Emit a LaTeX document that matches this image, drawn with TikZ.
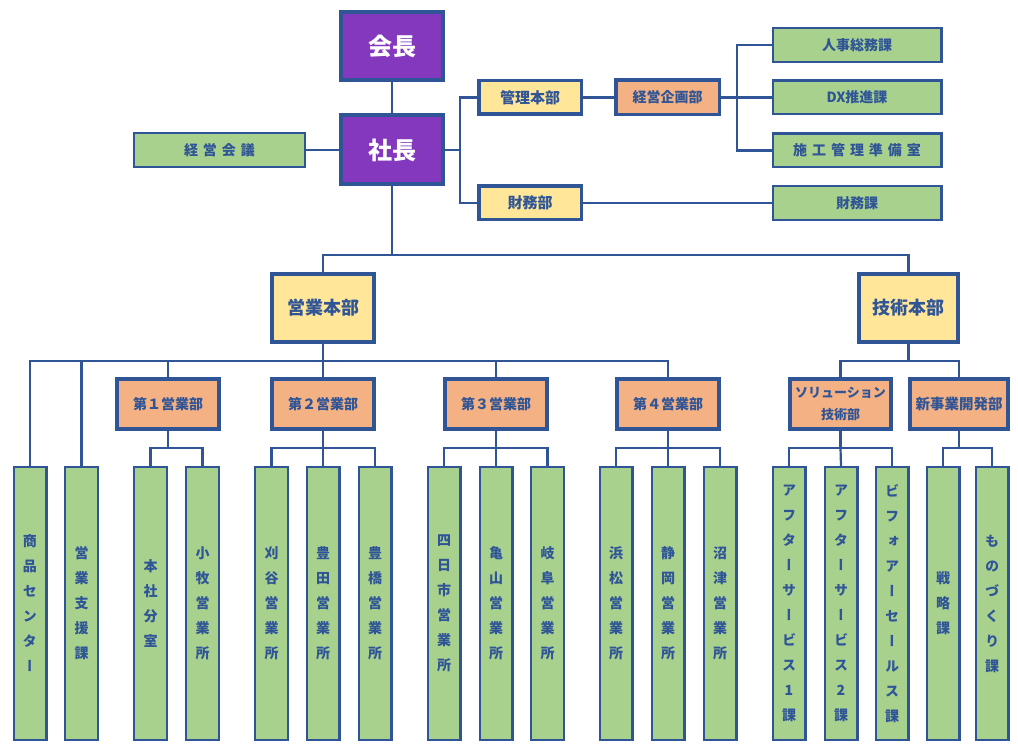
\documentclass[tikz,border=0pt]{standalone}
\usepackage{fontspec}
\setmainfont{Noto Sans CJK JP}
\newfontfamily\vjp[RawFeature=+vert]{Noto Sans CJK JP}
\definecolor{lineblue}{HTML}{2F5597}
\definecolor{chiefpurple}{HTML}{8338BE}
\definecolor{hqyellow}{HTML}{FFE699}
\definecolor{deptorange}{HTML}{F4B183}
\definecolor{sectgreen}{HTML}{A9D18E}
\newcommand{\kgap}{\hspace{5pt}}

\begin{document}
\begin{tikzpicture}[x=1pt,y=-1pt]
    \tikzset{chief/.style = {shape=rectangle,draw=lineblue,line width=4pt,fill=chiefpurple,text=white,minimum width=102pt,minimum height=68pt,inner sep=0pt,font=\bfseries\fontsize{24}{28}\selectfont}}
    \tikzset{hq/.style = {shape=rectangle,draw=lineblue,line width=4pt,fill=hqyellow,text=lineblue,minimum width=102pt,minimum height=68pt,inner sep=0pt,font=\bfseries\fontsize{18}{22}\selectfont}}
    \tikzset{office/.style = {shape=rectangle,draw=lineblue,line width=3.5pt,fill=hqyellow,text=lineblue,minimum width=102.5pt,minimum height=33.5pt,inner sep=0pt,font=\bfseries\fontsize{15}{18}\selectfont}}
    \tikzset{dept/.style = {shape=rectangle,draw=lineblue,line width=4pt,fill=deptorange,text=lineblue,minimum width=102pt,minimum height=50pt,inner sep=0pt,align=center,font=\bfseries\fontsize{14}{22}\selectfont}}
    \tikzset{sect/.style = {shape=rectangle,draw=lineblue,line width=2.2pt,fill=sectgreen,text=lineblue,minimum width=168.8pt,minimum height=33.8pt,inner sep=0pt,font=\bfseries\fontsize{14}{17}\selectfont}}
    \tikzset{unit/.style = {shape=rectangle,draw=lineblue,line width=2.2pt,fill=sectgreen,text=lineblue,minimum width=32.8pt,minimum height=272.8pt,inner sep=0pt,align=center,font=\vjp\bfseries\fontsize{14}{25}\selectfont}}
    \tikzset{edge/.style = {-,draw=lineblue,line width=2.2pt}}

    \useasboundingbox (0,0) rectangle (1018,751);

    % vertices

    \node[chief] (kaicho) at (392,46) {会長};
    \node[chief,minimum height=69pt] (shacho) at (392,150) {社長};
    \node[sect,minimum width=170.8pt] (kaigi) at (219.5,150) {経\kgap 営\kgap 会\kgap 議};

    \node[office] (kanri) at (530,97.5) {管理本部};
    \node[office] (zaimu) at (530,203) {財務部};
    \node[dept,line width=3.5pt,minimum width=103.5pt,minimum height=34.5pt] (kikaku) at (667.5,97.5) {経営企画部};

    \node[sect] (jinji) at (857,45) {人事総務課};
    \node[sect] (dx) at (857,97.5) {DX推進課};
    \node[sect] (sekou) at (857,150.5) {施\kgap 工\kgap 管\kgap 理\kgap 準\kgap 備\kgap 室};
    \node[sect] (zaimuka) at (857,203) {財務課};

    \node[hq] (eigyo) at (323,308) {営業本部};
    \node[hq,minimum width=99pt] (gijutsu) at (908.5,308) {技術本部};

    \node[dept] (dai1) at (168,404) {第１営業部};
    \node[dept] (dai2) at (323,404) {第２営業部};
    \node[dept] (dai3) at (496,404) {第３営業部};
    \node[dept] (dai4) at (668,404) {第４営業部};
    \node[dept,minimum width=101pt,font=\bfseries\fontsize{13}{22}\selectfont] (solution) at (840.5,404) {ソリューション\\技術部};
    \node[dept,minimum width=98pt,font=\bfseries\fontsize{14.5}{18}\selectfont] (shinjigyo) at (959,404) {新事業開発部};

    \node[unit] (shohin) at (30,603.5) {商\\品\\セ\\ン\\タ\\ー};
    \node[unit] (shien) at (81.5,603.5) {営\\業\\支\\援\\課};
    \node[unit] (honsha) at (150.5,603.5) {本\\社\\分\\室};
    \node[unit] (komaki) at (202.5,603.5) {小\\牧\\営\\業\\所};
    \node[unit] (kariya) at (271.5,603.5) {刈\\谷\\営\\業\\所};
    \node[unit] (toyota) at (323,603.5) {豊\\田\\営\\業\\所};
    \node[unit] (toyohashi) at (375,603.5) {豊\\橋\\営\\業\\所};
    \node[unit] (yokkaichi) at (444,603.5) {四\\日\\市\\営\\業\\所};
    \node[unit] (kameyama) at (496,603.5) {亀\\山\\営\\業\\所};
    \node[unit] (gifu) at (547.5,603.5) {岐\\阜\\営\\業\\所};
    \node[unit] (hamamatsu) at (616,603.5) {浜\\松\\営\\業\\所};
    \node[unit] (shizuoka) at (668,603.5) {静\\岡\\営\\業\\所};
    \node[unit] (numazu) at (720,603.5) {沼\\津\\営\\業\\所};
    \node[unit] (after1) at (789,603.5) {ア\\フ\\タ\\ー\\サ\\ー\\ビ\\ス\\1\\課};
    \node[unit] (after2) at (841,603.5) {ア\\フ\\タ\\ー\\サ\\ー\\ビ\\ス\\2\\課};
    \node[unit] (before) at (892,603.5) {ビ\\フ\\ォ\\ア\\ー\\セ\\ー\\ル\\ス\\課};
    \node[unit] (senryaku) at (943,603.5) {戦\\略\\課};
    \node[unit] (monozukuri) at (992,603.5) {も\\の\\づ\\く\\り\\課};

    % junctions
    \coordinate (j1) at (460,150);
    \coordinate (j2) at (737,97.5);
    \coordinate (j3) at (392,255);
    \coordinate (j4) at (323,361);
    \coordinate (j5) at (908.5,361);
    \coordinate (b1) at (168,448);
    \coordinate (b2) at (323,448);
    \coordinate (b3) at (496,448);
    \coordinate (b4) at (668,448);
    \coordinate (b5) at (840.5,448);
    \coordinate (b6) at (959,448);

    % edges
    \draw[edge] (kaicho) to (shacho);
    \draw[edge] (kaigi) to (shacho);
    \draw[edge] (shacho.east) -- (j1) |- (kanri.west);
    \draw[edge] (j1) |- (zaimu.west);
    \draw[edge] (kanri) to (kikaku);
    \draw[edge] (kikaku.east) -- (j2) |- (jinji.west);
    \draw[edge] (j2) -- (dx.west);
    \draw[edge] (j2) |- (sekou.west);
    \draw[edge] (zaimu) to (zaimuka);

    \draw[edge] (shacho.south) -- (j3) -| (eigyo.north);
    \draw[edge] (j3) -| (gijutsu.north);

    \draw[edge] (eigyo.south) -- (j4) -| (shohin.north);
    \draw[edge] (j4) -| (shien.north);
    \draw[edge] (j4) -| (dai1.north);
    \draw[edge] (j4) -- (dai2.north);
    \draw[edge] (j4) -| (dai3.north);
    \draw[edge] (j4) -| (dai4.north);
    \draw[edge] (gijutsu.south) -- (j5) -| (solution.north);
    \draw[edge] (j5) -| (shinjigyo.north);

    \draw[edge] (dai1.south) -- (b1) -| (honsha.north);
    \draw[edge] (b1) -| (komaki.north);
    \draw[edge] (dai2.south) -- (b2) -| (kariya.north);
    \draw[edge] (b2) -- (toyota.north);
    \draw[edge] (b2) -| (toyohashi.north);
    \draw[edge] (dai3.south) -- (b3) -| (yokkaichi.north);
    \draw[edge] (b3) -- (kameyama.north);
    \draw[edge] (b3) -| (gifu.north);
    \draw[edge] (dai4.south) -- (b4) -| (hamamatsu.north);
    \draw[edge] (b4) -- (shizuoka.north);
    \draw[edge] (b4) -| (numazu.north);
    \draw[edge] (solution.south) -- (b5) -| (after1.north);
    \draw[edge] (b5) -- (after2.north);
    \draw[edge] (b5) -| (before.north);
    \draw[edge] (shinjigyo.south) -- (b6) -| (senryaku.north);
    \draw[edge] (b6) -| (monozukuri.north);
\end{tikzpicture}
\end{document}
